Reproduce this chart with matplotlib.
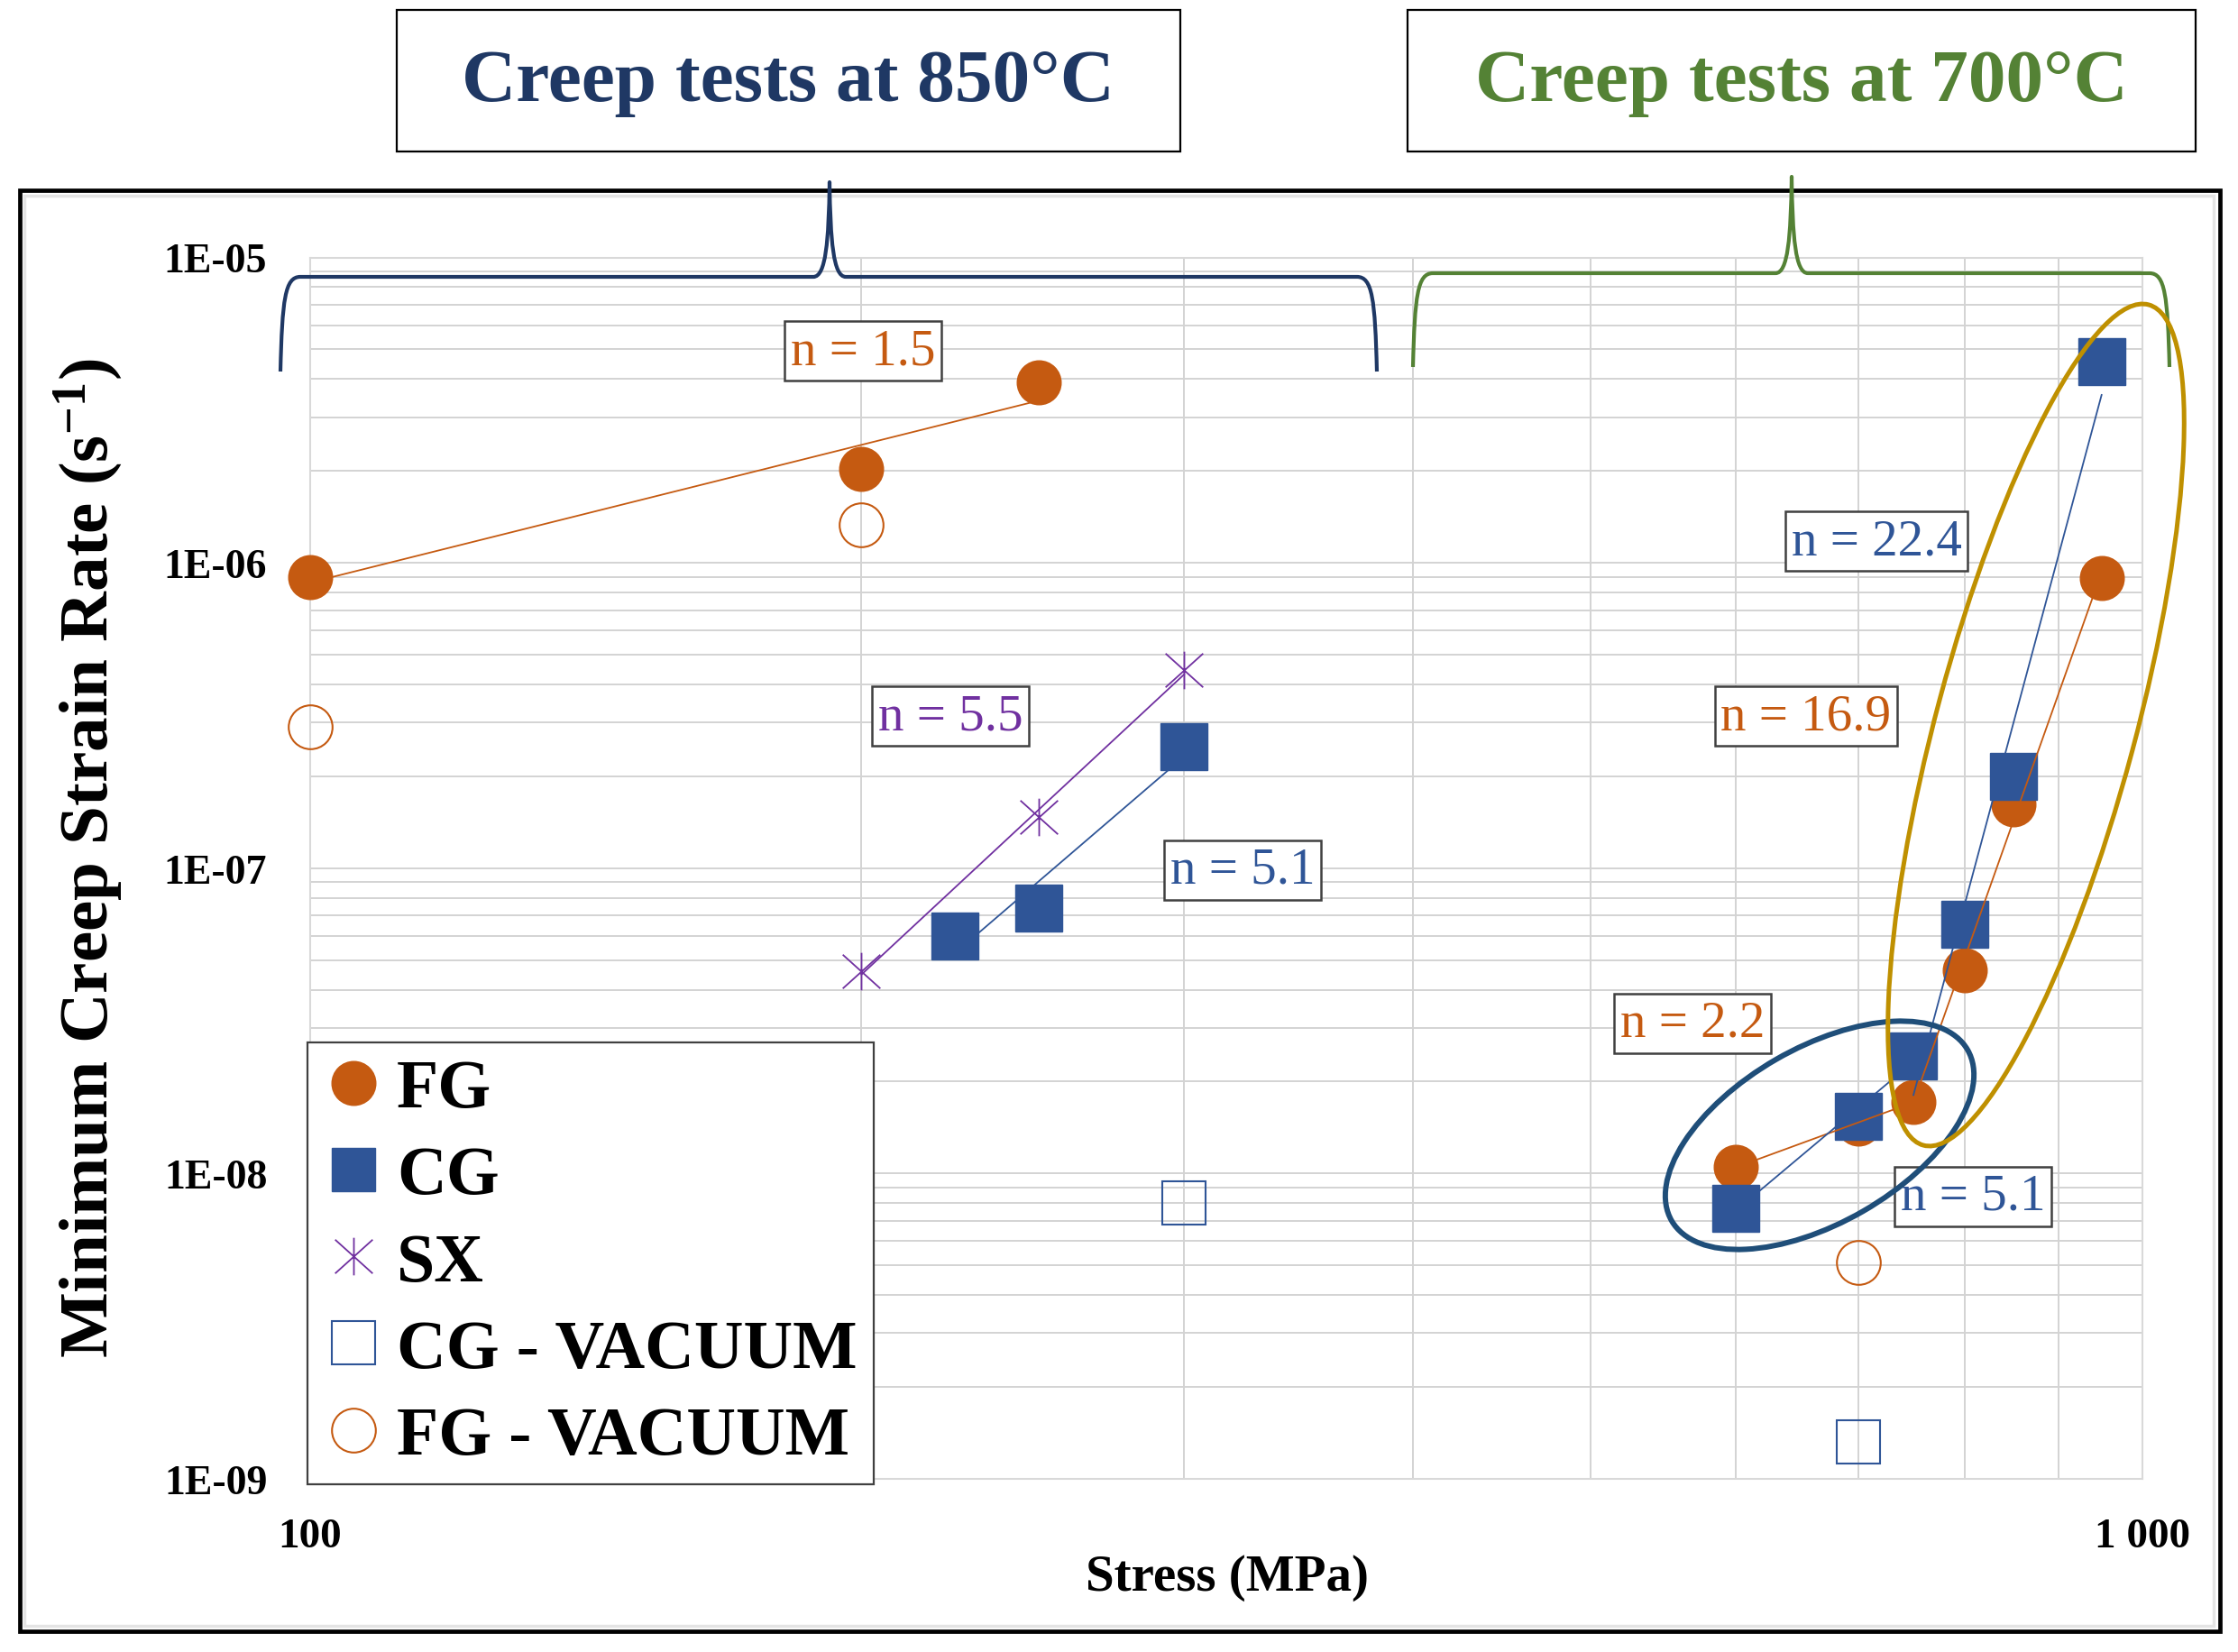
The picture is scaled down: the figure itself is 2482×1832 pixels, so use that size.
import numpy as np
import matplotlib
matplotlib.use("Agg")
import matplotlib.pyplot as plt
from matplotlib.lines import Line2D
from matplotlib.patches import Ellipse, Rectangle, PathPatch
from matplotlib.path import Path
from matplotlib.ticker import FixedLocator, LogLocator, NullFormatter

plt.rcParams['font.family'] = ['Liberation Serif', 'DejaVu Serif']
plt.rcParams['mathtext.fontset'] = 'custom'
plt.rcParams['mathtext.rm'] = 'Liberation Serif:bold'
plt.rcParams['mathtext.it'] = 'Liberation Serif:bold'
plt.rcParams['mathtext.bf'] = 'Liberation Serif:bold'

# ---- data (stress in MPa, minimum creep rate in 1/s) ----
# 850 C
fg_850_stress = [100, 200, 250]
fg_850_rate = [9.0e-7, 2.03e-6, 3.9e-6]
cg_850_stress = [225, 250, 300]
cg_850_rate = [6.0e-8, 7.4e-8, 2.5e-7]
sx_850_stress = [200, 250, 300]
sx_850_rate = [4.6e-8, 1.47e-7, 4.45e-7]
# 700 C
fg_700_stress = [600, 700, 750, 800, 850, 950]
fg_700_rate = [1.05e-8, 1.46e-8, 1.72e-8, 4.63e-8, 1.62e-7, 8.9e-7]
cg_700_stress = [600, 700, 750, 800, 850, 950]
cg_700_rate = [7.7e-9, 1.54e-8, 2.43e-8, 6.55e-8, 2.0e-7, 4.55e-6]
# vacuum tests
cg_vac_stress = [300, 700]
cg_vac_rate = [8.0e-9, 1.32e-9]
fg_vac_stress = [100, 200, 700]
fg_vac_rate = [2.9e-7, 1.33e-6, 5.1e-9]

y_ticks = [1e-9, 1e-8, 1e-7, 1e-6, 1e-5]
y_ticklabels = ["1E-09", "1E-08", "1E-07", "1E-06", "1E-05"]
x_ticks = [100, 1000]
x_ticklabels = ["100", "1 000"]

ORANGE = '#C55A11'
BLUE = '#2F5597'
PURPLE = '#7030A0'
NAVY = '#1F3864'
GREEN = '#548235'
GOLD = '#BF9000'
ELL_BLUE = '#1F4E79'

W, H = 2482, 1833
fig = plt.figure(figsize=(W / 100, H / 100), dpi=100)
fig.patch.set_facecolor('white')

# main axes placed in pixel coordinates of the reference
ax_l, ax_r, ax_t, ax_b = 343.5, 2376.0, 286.5, 1641.0
ax = fig.add_axes([ax_l / W, 1 - ax_b / H, (ax_r - ax_l) / W, (ax_b - ax_t) / H])
ax.set_xscale('log')
ax.set_yscale('log')
ax.set_xlim(100, 1000)
ax.set_ylim(1e-9, 1e-5)

ax.xaxis.set_major_locator(FixedLocator(x_ticks))
ax.set_xticklabels(x_ticklabels)
ax.xaxis.set_minor_locator(FixedLocator(np.arange(200, 1000, 100)))
ax.xaxis.set_minor_formatter(NullFormatter())
ax.yaxis.set_major_locator(FixedLocator(y_ticks))
ax.set_yticklabels(y_ticklabels)
ax.yaxis.set_minor_locator(LogLocator(base=10, subs=np.arange(2, 10)))
ax.yaxis.set_minor_formatter(NullFormatter())

ax.grid(True, which='both', color='#D3D3D3', lw=1.4, zorder=0)
ax.set_axisbelow(True)
for s in ax.spines.values():
    s.set_color('#D9D9D9')
    s.set_linewidth(1.5)
ax.tick_params(which='both', length=0)
ax.tick_params(axis='y', pad=34, labelsize=33)
ax.tick_params(axis='x', pad=31, labelsize=34)
for lab in ax.get_xticklabels() + ax.get_yticklabels():
    lab.set_fontweight('bold')

# markers
ax.plot(fg_850_stress, fg_850_rate, 'o', ms=35, mfc=ORANGE, mec=ORANGE, zorder=3, clip_on=False)
ax.plot(fg_700_stress, fg_700_rate, 'o', ms=35, mfc=ORANGE, mec=ORANGE, zorder=3, clip_on=False)
ax.plot(cg_850_stress, cg_850_rate, 's', ms=37, mfc=BLUE, mec=BLUE, zorder=3, clip_on=False)
ax.plot(cg_700_stress, cg_700_rate, 's', ms=37, mfc=BLUE, mec=BLUE, zorder=3, clip_on=False)

star = Path([(-1, -0.9), (1, 0.9), (-1, 0.9), (1, -0.9), (0, -1), (0, 1)],
            [Path.MOVETO, Path.LINETO] * 3)
ax.plot(sx_850_stress, sx_850_rate, ls='none', marker=star, ms=30, mec=PURPLE,
        mew=1.3, zorder=3, clip_on=False)
ax.plot(cg_vac_stress, cg_vac_rate, 's', ms=34, mfc='none', mec=BLUE, mew=1.5,
        zorder=3, clip_on=False)
ax.plot(fg_vac_stress, fg_vac_rate, 'o', ms=35, mfc='none', mec=ORANGE, mew=1.5,
        zorder=3, clip_on=False)


def trend(xs, ys, color):
    # power law trend line fitted in log-log space over the points
    lx, ly = np.log10(xs), np.log10(ys)
    k, c = np.polyfit(lx, ly, 1)
    ends = np.array([lx.min(), lx.max()])
    ax.plot(10 ** ends, 10 ** (k * ends + c), color=color, lw=1.3, zorder=4)


trend(fg_850_stress, fg_850_rate, ORANGE)
trend(cg_850_stress, cg_850_rate, BLUE)
trend(sx_850_stress, sx_850_rate, PURPLE)
trend(fg_700_stress[:3], fg_700_rate[:3], ORANGE)
trend(fg_700_stress[2:], fg_700_rate[2:], ORANGE)
trend(cg_700_stress[:3], cg_700_rate[:3], BLUE)
trend(cg_700_stress[2:], cg_700_rate[2:], BLUE)

# legend
handles = [
    Line2D([], [], ls='none', marker='o', ms=35, mfc=ORANGE, mec=ORANGE, label='FG'),
    Line2D([], [], ls='none', marker='s', ms=35, mfc=BLUE, mec=BLUE, label='CG'),
    Line2D([], [], ls='none', marker=star, ms=30, mec=PURPLE, mew=1.3, label='SX'),
    Line2D([], [], ls='none', marker='s', ms=34, mfc='none', mec=BLUE, mew=1.5,
           label='CG - VACUUM'),
    Line2D([], [], ls='none', marker='o', ms=35, mfc='none', mec=ORANGE, mew=1.5,
           label='FG - VACUUM'),
]
leg = ax.legend(handles=handles, loc='upper left',
                bbox_to_anchor=((341 - ax_l) / (ax_r - ax_l), (ax_b - 1157) / (ax_b - ax_t)),
                borderaxespad=0, fancybox=False, framealpha=1,
                prop={'family': 'Liberation Serif', 'weight': 'bold', 'size': 54.5},
                borderpad=0.24, labelspacing=0.36, handlelength=0.86, handletextpad=0.21)
leg.get_frame().set_edgecolor('#404040')
leg.get_frame().set_linewidth(1.6)
leg.set_zorder(6)

# overlay in reference pixel coordinates for decorations
ov = fig.add_axes([0, 0, 1, 1], zorder=5)
ov.set_xlim(0, W)
ov.set_ylim(H, 0)
ov.axis('off')
ov.patch.set_alpha(0)

ov.add_patch(Rectangle((27, 218), 2428, 1586, fill=False, ec='#E4E4E4', lw=2.5))
ov.add_patch(Rectangle((22, 212), 2440, 1598, fill=False, ec='black', lw=3.4))

# title boxes
ov.add_patch(Rectangle((440, 12), 869, 157, fc='white', ec='black', lw=1.6))
ov.add_patch(Rectangle((1561, 12), 874, 157, fc='white', ec='black', lw=1.6))
ov.text(874, 92, "Creep tests at 850°C", color=NAVY, fontsize=60, fontweight='bold',
        ha='center', va='center')
ov.text(1998, 92, "Creep tests at 700°C", color=GREEN, fontsize=60, fontweight='bold',
        ha='center', va='center')


def brace(x0, x1, xm, yb, yh, ytip, color):
    verts = [(x0, yb), (x0 + 2, yh + 25), (x0 + 5, yh), (x0 + 22, yh),
             (xm - 18, yh),
             (xm - 4, yh), (xm - 1, yh - 40), (xm, ytip),
             (xm + 1, yh - 40), (xm + 4, yh), (xm + 18, yh),
             (x1 - 22, yh),
             (x1 - 5, yh), (x1 - 2, yh + 25), (x1, yb)]
    codes = [Path.MOVETO, Path.CURVE4, Path.CURVE4, Path.CURVE4,
             Path.LINETO,
             Path.CURVE4, Path.CURVE4, Path.CURVE4,
             Path.CURVE4, Path.CURVE4, Path.CURVE4,
             Path.LINETO,
             Path.CURVE4, Path.CURVE4, Path.CURVE4]
    ov.add_patch(PathPatch(Path(verts, codes), fill=False, ec=color, lw=3.0,
                           capstyle='butt', joinstyle='round'))


brace(311, 1527, 920, 413, 308, 203, NAVY)
brace(1567, 2406, 1987, 408, 304, 197, GREEN)

# exponent labels
n_labels = [
    ("n = 1.5", 957, 390, ORANGE),
    ("n = 5.5", 1054, 795, PURPLE),
    ("n = 5.1", 1378, 966, BLUE),
    ("n = 22.4", 2081, 601, BLUE),
    ("n = 16.9", 2003, 795, ORANGE),
    ("n = 2.2", 1877, 1136, ORANGE),
    ("n = 5.1", 2188, 1328, BLUE),
]
for txt, x, y, col in n_labels:
    ov.text(x, y, txt, color=col, fontsize=41, ha='center', va='center', zorder=2,
            bbox=dict(boxstyle='square,pad=0.12', fc='white', ec='#404040', lw=1.8))

ov.add_patch(Ellipse((2018, 1260), 379, 194, angle=-30, fill=False, ec=ELL_BLUE,
                     lw=4.3, zorder=3))
ov.add_patch(Ellipse((2258, 805), 965, 221, angle=-75, fill=False, ec=GOLD,
                     lw=3.6, zorder=3))

# axis titles
ov.text(1361, 1750, "Stress (MPa)", fontsize=41, fontweight='bold', ha='center',
        va='center')
ov.text(98, 952, "Minimum Creep Strain Rate (s$^{-1}$)", fontsize=55.5,
        fontweight='bold', rotation=90, ha='center', va='center')

plt.savefig("out.png", dpi=100, facecolor='white')
